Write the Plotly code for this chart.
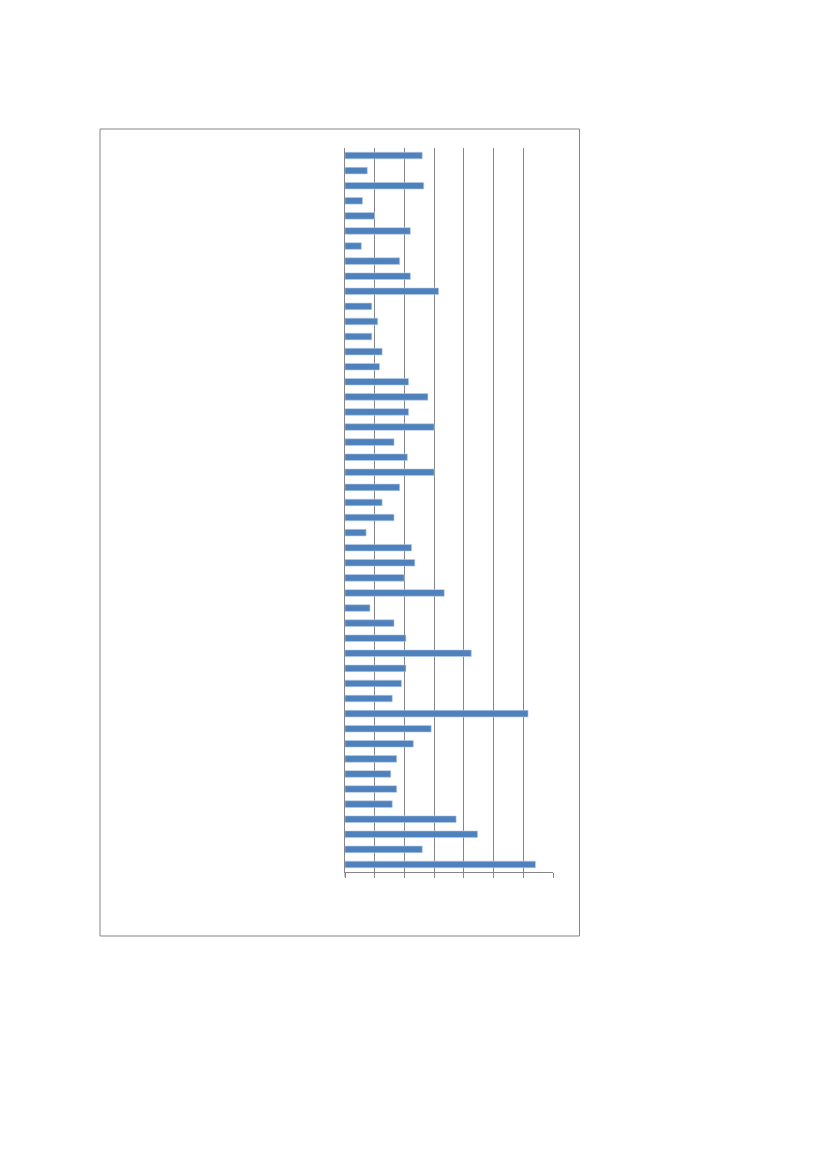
import plotly.graph_objects as go

# bar lengths, top bar first (gridline = 1 unit)
categories = [str(i) for i in range(1, 49)]
values = [
    2.60, 0.75, 2.65, 0.59, 0.99, 2.20, 0.55, 1.84, 2.20, 3.15,
    0.90, 1.10, 0.90, 1.25, 1.16, 2.14, 2.79, 2.14, 3.00, 1.65,
    2.10, 3.00, 1.84, 1.25, 1.65, 0.71, 2.24, 2.35, 1.99, 3.34,
    0.84, 1.65, 2.05, 4.25, 2.05, 1.90, 1.59, 6.16, 2.90, 2.30,
    1.74, 1.54, 1.74, 1.59, 3.74, 4.46, 2.60, 6.41,
]
x_ticks = [0, 1, 2, 3, 4, 5, 6, 7]

grey = "#868686"

fig = go.Figure()
fig.add_trace(go.Bar(
    x=values,
    y=categories,
    orientation="h",
    marker=dict(color="#4F81BD", line=dict(color="#B9CDE5", width=0.6)),
    hoverinfo="x",
))

# page body adds an 8px margin, so margins are smaller here
fig.update_layout(
    width=827,
    height=1169,
    paper_bgcolor="white",
    plot_bgcolor="white",
    showlegend=False,
    bargap=0.56,
    margin=dict(l=337, r=282, t=140, b=305, pad=0),
    xaxis=dict(
        range=[0, 7],
        tickvals=x_ticks,
        showticklabels=False,
        ticks="outside",
        ticklen=5,
        tickcolor=grey,
        tickwidth=1,
        showgrid=True,
        gridcolor=grey,
        gridwidth=1,
        showline=True,
        linecolor=grey,
        linewidth=1,
        zeroline=False,
        fixedrange=True,
    ),
    yaxis=dict(
        autorange="reversed",
        showticklabels=False,
        ticks="",
        showgrid=False,
        showline=True,
        linecolor=grey,
        linewidth=1,
        zeroline=False,
        fixedrange=True,
    ),
)

# outer chart frame
fig.add_shape(
    type="rect", xref="paper", yref="paper",
    x0=-245 / 208, x1=1 + 26.5 / 208, y0=-64 / 724, y1=1 + 19 / 724,
    line=dict(color=grey, width=1), fillcolor="rgba(0,0,0,0)",
    layer="below",
)
# y axis line carried down past the baseline like a tick
fig.add_shape(
    type="line", xref="paper", yref="paper",
    x0=0, x1=0, y0=-5 / 724, y1=0,
    line=dict(color=grey, width=1),
)

fig.write_html("out.html")
